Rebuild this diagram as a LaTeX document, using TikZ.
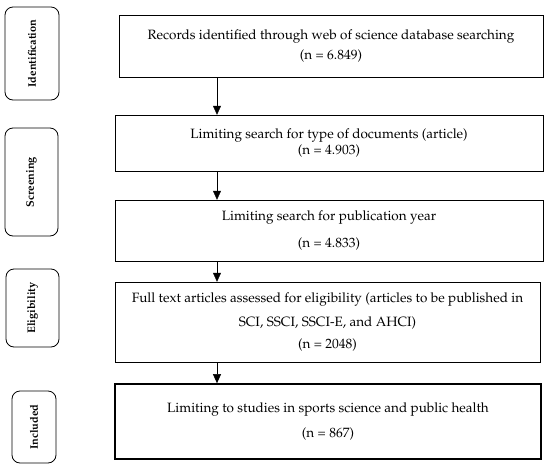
\documentclass[tikz,border=0pt]{standalone}
\usepackage[T1]{fontenc}
\usepackage{mathpazo}
\usepackage{tikz}
\usetikzlibrary{arrows.meta}

\begin{document}
\begin{tikzpicture}[x=1pt, y=-1pt,
    stepbox/.style={draw, thin, align=center, inner sep=0pt,
      font=\fontsize{13.5}{16}\selectfont},
    phase/.style={draw, thick, rounded corners=8pt, rotate=90, inner sep=0pt,
      font=\fontsize{11}{13}\selectfont\bfseries},
    flow/.style={-{Triangle[length=9pt, width=8pt]}, thin}]
  \useasboundingbox (0, 0) rectangle (550, 469);
  \node (id) at (32, 53.5) [phase, minimum width=93pt, minimum height=54pt] {Identification};
  \node (sc) at (31.5, 182) [phase, minimum width=108pt, minimum height=53pt] {Screening};
  \node (el) at (32.5, 308) [phase, minimum width=78pt, minimum height=53pt] {Eligibility};
  \node (in) at (34, 427) [phase, minimum width=72pt, minimum height=44pt] {Included};
  \node (rec) at (331, 46) [stepbox, minimum width=424pt, minimum height=62pt]
    {Records identified through web of science database searching\\[4pt] (n = 6.849)};
  \node (doc) at (329, 143) [stepbox, minimum width=428pt, minimum height=56pt]
    {Limiting search for type of documents (article)\\ (n = 4.903)};
  \node (year) at (329, 230.5) [stepbox, minimum width=428pt, minimum height=61pt]
    {Limiting search for publication year\\[11pt] (n = 4.833)};
  \node (full) at (327.5, 322) [stepbox, minimum width=425pt, minimum height=80pt]
    {Full text articles assessed for eligibility (articles to be published in\\[8pt]
     SCI, SSCI, SSCI-E, and AHCI)\\[6pt] (n = 2048)};
  \node (incl) at (328, 421.5) [stepbox, line width=1.6pt, minimum width=426pt, minimum height=75pt]
    {Limiting to studies in sports science and public health\\[9pt] (n = 867)};
  \coordinate (ax) at (217, 0);
  \draw[flow] (rec.south -| ax) -- (doc.north -| ax);
  \draw[flow] (doc.south -| ax) -- (year.north -| ax);
  \draw[flow] (year.south -| ax) -- (full.north -| ax);
  \draw[flow] (full.south -| ax) -- (incl.north -| ax);
\end{tikzpicture}
\end{document}
